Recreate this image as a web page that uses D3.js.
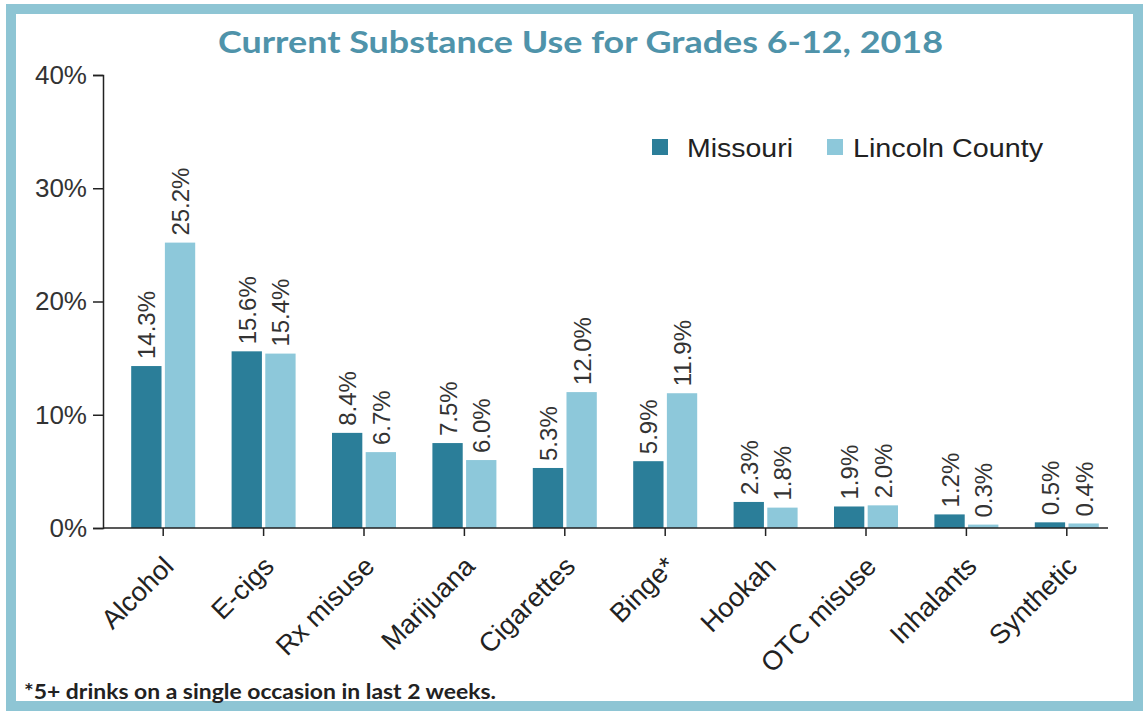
<!DOCTYPE html>
<html>
<head>
<meta charset="utf-8">
<script src="https://cdn.jsdelivr.net/npm/d3@7"></script>
<style>
  body { margin: 0; background: #fff; }
  text { font-family: "Liberation Sans", Arial, sans-serif; }
</style>
</head>
<body>
<div id="viz"></div>
<script>
// data
var categories = ['Alcohol', 'E-cigs', 'Rx misuse', 'Marijuana', 'Cigarettes', 'Binge*', 'Hookah', 'OTC misuse', 'Inhalants', 'Synthetic'];
var seriesNames = ['Missouri', 'Lincoln County'];
var missouri = [14.3, 15.6, 8.4, 7.5, 5.3, 5.9, 2.3, 1.9, 1.2, 0.5];
var lincoln = [25.2, 15.4, 6.7, 6.0, 12.0, 11.9, 1.8, 2.0, 0.3, 0.4];
var yTicks = [0, 10, 20, 30, 40];

const w = 1143;
const h = 711;

var colors = { 'Missouri': '#2b7e99', 'Lincoln County': '#8dc8da' };

var svg = d3.select('#viz')
  .append('svg')
  .attr('width', w)
  .attr('height', h)

// frame
svg.append('rect')
  .attr('x', 11).attr('y', 9)
  .attr('width', 1127).attr('height', 697)
  .attr('fill', 'none')
  .attr('stroke', '#8ec5d4')
  .attr('stroke-width', 10)

// title
svg.append('text')
  .attr('x', 218).attr('y', 53)
  .attr('textLength', 725)
  .attr('lengthAdjust', 'spacingAndGlyphs')
  .style('font-family', 'Lato, sans-serif')
  .style('font-weight', 'bold')
  .style('font-size', '30px')
  .style('fill', '#4f93aa')
  .text('Current Substance Use for Grades 6-12, 2018')

// scales
var x = d3.scaleBand()
  .domain(categories)
  .range([113, 1117])

var xSub = d3.scaleBand()
  .domain(seriesNames)
  .range([-32, 32])
  .paddingInner(0.1)

var y = d3.scaleLinear()
  .domain([0, 40])
  .range([528, 75])

// y axis
var yAxis = svg.append('g')
  .attr('transform', 'translate(103,0)')
  .call(d3.axisLeft(y).tickValues(yTicks).tickSize(10).tickPadding(6).tickFormat(d => d + '%'))
yAxis.select('.domain').attr('stroke', '#222').attr('stroke-width', 1.5)
yAxis.selectAll('.tick line').attr('stroke', '#222').attr('stroke-width', 1.5)
yAxis.selectAll('.tick text')
  .style('font-size', '26px')
  .style('fill', '#333')

// bars
var rows = categories.map((c, i) => ({ cat: c, vals: [
  { name: 'Missouri', v: missouri[i] },
  { name: 'Lincoln County', v: lincoln[i] }
] }))

var groups = svg.selectAll('g.grp')
  .data(rows)
  .enter()
  .append('g')
  .attr('class', 'grp')
  .attr('transform', d => 'translate(' + (x(d.cat) + x.bandwidth() / 2) + ',0)')

groups.selectAll('rect')
  .data(d => d.vals)
  .enter()
  .append('rect')
  .attr('x', d => xSub(d.name))
  .attr('width', xSub.bandwidth())
  .attr('y', d => y(d.v))
  .attr('height', d => y(0) - y(d.v))
  .style('fill', d => colors[d.name])

// value labels
groups.selectAll('text.val')
  .data(d => d.vals)
  .enter()
  .append('text')
  .attr('class', 'val')
  .attr('transform', d => 'translate(' + (xSub(d.name) + xSub.bandwidth() / 2 + 9) + ',' + (y(d.v) - 7) + ') rotate(-90)')
  .style('font-size', '24px')
  .style('fill', '#333')
  .text(d => d.v.toFixed(1) + '%')

// x axis
var xAxis = svg.append('g')
  .attr('transform', 'translate(0,528)')
  .call(d3.axisBottom(x).tickSize(8).tickFormat(''))
xAxis.select('.domain').remove()
xAxis.selectAll('.tick line').attr('stroke', '#222').attr('stroke-width', 1.5)

svg.append('line')
  .attr('x1', 103).attr('x2', 1108)
  .attr('y1', y(0)).attr('y2', y(0))
  .attr('stroke', '#222')
  .attr('stroke-width', 1.5)

svg.selectAll('text.cat')
  .data(categories)
  .enter()
  .append('text')
  .attr('class', 'cat')
  .attr('text-anchor', 'end')
  .attr('transform', d => 'translate(' + (x(d) + x.bandwidth() / 2 + 12) + ',568) rotate(-45)')
  .style('font-size', '27px')
  .style('fill', '#222')
  .text(d => d)

// legend
var legend = svg.append('g')
  .attr('transform', 'translate(652,139)')
var legX = [0, 175]
var legTextX = [35, 201]
var legLen = [106, 190]
seriesNames.forEach((s, i) => {
  legend.append('rect')
    .attr('x', legX[i]).attr('y', 0)
    .attr('width', 16).attr('height', 16)
    .style('fill', colors[s])
  legend.append('text')
    .attr('x', legTextX[i]).attr('y', 18)
    .attr('textLength', legLen[i])
    .attr('lengthAdjust', 'spacingAndGlyphs')
    .style('font-size', '25px')
    .style('fill', '#222')
    .text(s)
})

// footnote
svg.append('text')
  .attr('x', 24).attr('y', 699)
  .attr('textLength', 472)
  .attr('lengthAdjust', 'spacingAndGlyphs')
  .style('font-family', 'Lato, sans-serif')
  .style('font-weight', 'bold')
  .style('font-size', '20px')
  .style('fill', '#222')
  .text('*5+ drinks on a single occasion in last 2 weeks.')
</script>
</body>
</html>
